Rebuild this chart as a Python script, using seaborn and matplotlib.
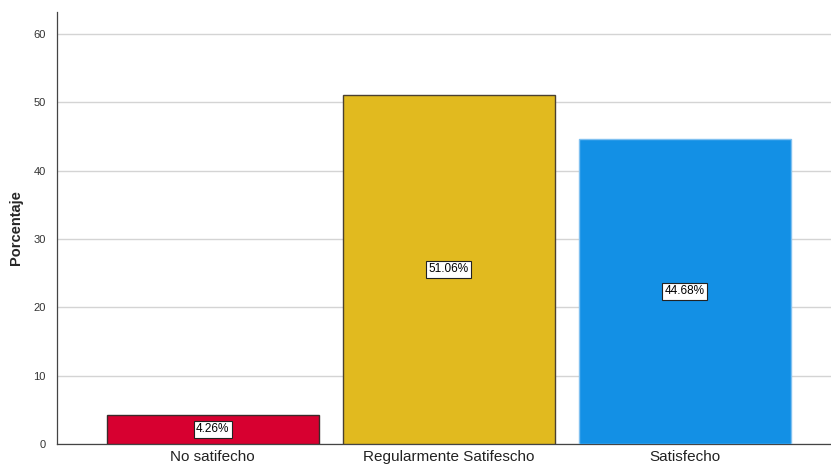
import matplotlib
matplotlib.use("Agg")
import matplotlib.pyplot as plt
import seaborn as sns
import pandas as pd

categories = ["No satifecho", "Regularmente Satifescho", "Satisfecho"]
percentages = [4.26, 51.06, 44.68]
bar_colors = ["#D70030", "#E1BA1F", "#1390E5"]
edge_colors = ["#3A2A2A", "#4A4030", "#7FC0F0"]
yticks = [0, 10, 20, 30, 40, 50, 60]

df = pd.DataFrame({"categoria": categories, "porcentaje": percentages})

sns.set_style("white")
plt.rcParams["font.family"] = ["Liberation Sans", "DejaVu Sans"]

fig = plt.figure(figsize=(8.31, 4.69), dpi=100)
ax = fig.add_axes([57 / 831, 25 / 469, 774 / 831, 432 / 469])

sns.barplot(data=df, x="categoria", y="porcentaje", hue="categoria",
            palette=bar_colors, saturation=1, width=0.9, legend=False,
            ax=ax, zorder=3)

for patch, ec in zip(ax.patches, edge_colors):
    patch.set_edgecolor(ec)
    patch.set_linewidth(1.0)

for i, v in enumerate(percentages):
    ax.text(i, v / 2, f"{v:.2f}%", ha="center", va="center", fontsize=8.5,
            color="black", zorder=5,
            bbox=dict(boxstyle="square,pad=0.2", facecolor="white",
                      edgecolor="#222222", linewidth=0.8))

ax.set_ylim(0, 63.2)
ax.set_xlim(-0.66, 2.62)
ax.set_yticks(yticks)
ax.yaxis.grid(True, color="#D4D4D4", linewidth=1.0, zorder=0)
ax.set_axisbelow(True)

for s in ["top", "right"]:
    ax.spines[s].set_visible(False)
ax.spines["left"].set_color("#444444")
ax.spines["bottom"].set_color("#444444")
ax.spines["left"].set_linewidth(0.9)
ax.spines["bottom"].set_linewidth(0.9)

ax.tick_params(axis="y", labelsize=8, colors="#333333", length=0, pad=8)
ax.tick_params(axis="x", labelsize=11, colors="#222222", length=0, pad=4)
ax.set_xlabel("")
ax.set_ylabel("Porcentaje", fontsize=10.5, fontweight="bold")
ax.yaxis.set_label_coords(-34 / 774, 0.5)

fig.savefig("out.png", dpi=100)
